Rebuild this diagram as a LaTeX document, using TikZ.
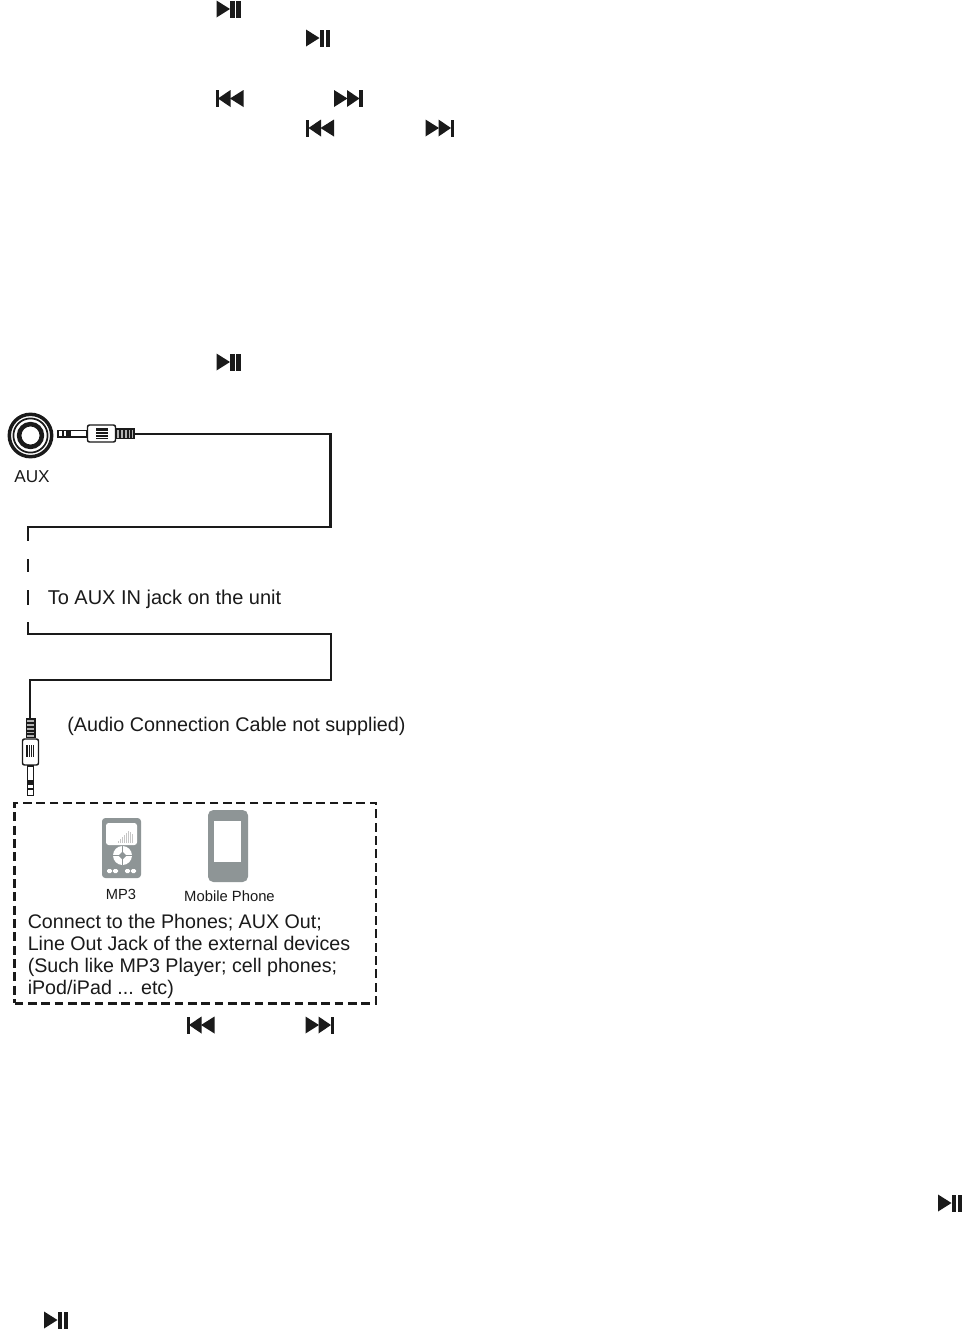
\documentclass[tikz,border=0pt]{standalone}
\usepackage{fontspec}
\setmainfont{Liberation Sans}
\definecolor{ink}{HTML}{1A1A1A}
\definecolor{dev}{HTML}{8E9596}
\tikzset{
  x=0.75pt,y=-0.75pt,
  cable/.style={draw=ink,line width=1.8pt},
  lbl/.style={anchor=west,inner sep=0pt,text=ink,font=\fontsize{15}{18}\selectfont},
  small/.style={anchor=center,inner sep=0pt,text=ink,font=\fontsize{11}{13}\selectfont},
  pic1/.style={draw=ink,fill=white,line width=1.1pt},
}
% media glyphs: coordinates are the left-centre of the glyph
\newcommand{\playpause}[2]{\begin{scope}[shift={(#1,#2)}]
  \fill[ink] (0,-8.5)--(13.5,0)--(0,8.5)--cycle;
  \fill[ink] (13.5,-8.5) rectangle (18,8.5);
  \fill[ink] (19.5,-8.5) rectangle (24,8.5);
\end{scope}}
\newcommand{\prevtrack}[2]{\begin{scope}[shift={(#1,#2)}]
  \fill[ink] (0,-8.5) rectangle (3.2,8.5);
  \fill[ink] (15,-8.5)--(2.5,0)--(15,8.5)--cycle;
  \fill[ink] (28,-8.5)--(14.5,0)--(28,8.5)--cycle;
\end{scope}}
\newcommand{\nexttrack}[2]{\begin{scope}[shift={(#1,#2)}]
  \fill[ink] (0,-8.5)--(13.5,0)--(0,8.5)--cycle;
  \fill[ink] (13,-8.5)--(25.5,0)--(13,8.5)--cycle;
  \fill[ink] (25,-8.5) rectangle (28.5,8.5);
\end{scope}}
\begin{document}
\begin{tikzpicture}
\useasboundingbox (0,0) rectangle (963,1329);
\fill[white] (0,0) rectangle (963,1329);
% glyphs
\playpause{216.5}{9}
\playpause{306}{38}
\prevtrack{215.5}{98.5}
\nexttrack{334}{98.5}
\prevtrack{306}{128}
\nexttrack{425.5}{128}
\playpause{216.5}{362}
\prevtrack{186.5}{1025}
\nexttrack{305.5}{1025}
\playpause{938}{1203}
\playpause{44}{1320}
% AUX jack
\draw[ink,line width=2.6pt] (30.5,435.5) circle (21.2);
\draw[ink,line width=1.3pt] (30.5,435.5) circle (17.1);
\draw[ink,line width=3.4pt] (30.5,435.5) circle (11.4);
\node[small,font=\fontsize{12.9}{16}\selectfont] (auxl) at (32,477) {AUX};
% top plug (horizontal)
\draw[pic1] (58,430.5) rectangle (87,437);
\fill[ink] (62,430) rectangle (64,437.5);
\fill[ink] (66,430) rectangle (71,437.5);
\draw[pic1,rounded corners=1.5pt] (87.5,425) rectangle (115.5,442);
\fill[ink] (96,428) rectangle (108,439);
\foreach \yy in {431,434,437}{\draw[white,line width=0.6pt] (96,\yy)--(108,\yy);}
\draw[pic1,fill=gray!60] (116,429) rectangle (134,438.5);
\foreach \xx in {120,124,128,131}{\draw[ink,line width=1pt] (\xx,429)--(\xx,438.5);}
\coordinate (plugA) at (134,434);
% cable segments
\coordinate (c1) at (330.5,434);
\coordinate (c2) at (330.5,527);
\coordinate (c3) at (28,527);
\coordinate (c3e) at (28,541);
\draw[cable] (plugA)--(c1)--(c2)--(c3)--(c3e);
\coordinate (g1a) at (28,559);
\coordinate (g1b) at (28,572);
\draw[cable] (g1a)--(g1b);
\coordinate (g2a) at (28,590);
\coordinate (g2b) at (28,605);
\draw[cable] (g2a)--(g2b);
\coordinate (d0) at (28,622);
\coordinate (d1) at (28,634);
\coordinate (d2) at (331,634);
\coordinate (d3) at (331,680);
\coordinate (d4) at (30,680);
\coordinate (plugB) at (30,719);
\draw[cable] (d0)--(d1)--(d2)--(d3)--(d4)--(plugB);
% bottom plug (vertical)
\draw[pic1,fill=gray!60] (26.5,719) rectangle (35,737.5);
\foreach \yy in {723,727,731,734}{\draw[ink,line width=1pt] (26.5,\yy)--(35,\yy);}
\draw[pic1,rounded corners=1.5pt] (22.5,739) rectangle (38.5,765);
\fill[ink] (26,745) rectangle (35,757);
\foreach \xx in {28,30,32,34}{\draw[white,line width=0.5pt] (\xx,745)--(\xx,757);}
\draw[pic1] (27.5,766) rectangle (33.5,795.5);
\fill[ink] (27.5,780) rectangle (33.5,785);
\fill[ink] (27.5,788) rectangle (33.5,789.5);
% labels
\node[lbl] (t1) at (47.5,599.5) {To AUX IN jack on the unit};
\node[lbl,font=\fontsize{14.82}{18}\selectfont] (t2) at (67,726.5) {(Audio Connection Cable not supplied)};
% dashed box
\node[draw=ink,line width=1.9pt,dash pattern=on 6.6pt off 3.4pt,minimum width=271.2pt,minimum height=150.4pt,inner sep=0pt,anchor=north west] (box) at (13.3,801.5) {};
% MP3
\fill[dev,rounded corners=2.5pt] (102,818) rectangle (141,878);
\fill[white,rounded corners=2pt] (106,823) rectangle (137,845);
\foreach \xx/\hh in {118/2,120/4,122/6,124/8,126/10,128/12,130/11,132/9}{\fill[gray!45] (\xx,842.5-\hh)rectangle(\xx+1.4,842.5);}
\fill[white] (122.5,855.5) circle (9.5);
\draw[dev,line width=0.4pt] (122.5,846)--(122.5,865) (113,855.5)--(132,855.5);
\fill[dev] (122.5,851.5)--(126.5,855.5)--(122.5,859.5)--(118.5,855.5)--cycle;
\fill[white,rounded corners=1pt] (107,869) rectangle (112,873);
\fill[white,rounded corners=1pt] (113,869) rectangle (118,873);
\fill[white,rounded corners=1pt] (125,869) rectangle (130,873);
\fill[white,rounded corners=1pt] (131,869) rectangle (136,873);
\node[small] (mp3) at (121,894) {MP3};
% phone
\fill[dev,rounded corners=4pt] (208,810) rectangle (248,882);
\fill[white] (214,821) rectangle (241,862);
\node[small,font=\fontsize{11.1}{13}\selectfont] (phone) at (229.5,896) {Mobile Phone};
% paragraph
\node[lbl,anchor=north west,align=left,font=\fontsize{14.75}{16.5}\selectfont] (para) at (27.5,914) {Connect to the Phones; AUX Out;\\Line Out Jack of the external devices\\(Such like MP3 Player; cell phones;\\iPod/iPad ... etc)};
\end{tikzpicture}
\end{document}
